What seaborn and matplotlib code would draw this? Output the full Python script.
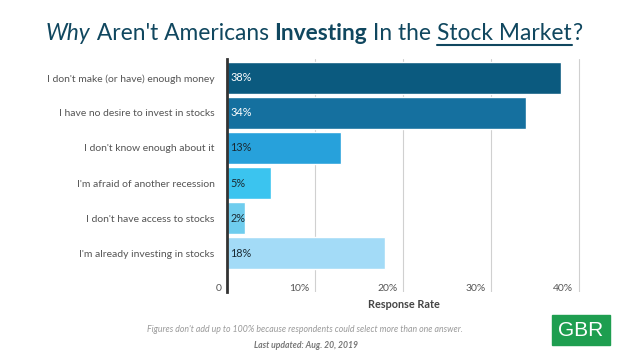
import matplotlib
matplotlib.use("Agg")
import matplotlib.pyplot as plt
import matplotlib.transforms as mtransforms
import seaborn as sns
import pandas as pd

categories = [
    "I don't make (or have) enough money",
    "I have no desire to invest in stocks",
    "I don't know enough about it",
    "I'm afraid of another recession",
    "I don't have access to stocks",
    "I'm already investing in stocks",
]
values = [38, 34, 13, 5, 2, 18]
value_labels = ["38%", "34%", "13%", "5%", "2%", "18%"]
bar_colors = ["#0b5a7f", "#15709f", "#27a1db", "#3bc4ef", "#6fcdee", "#a3dbf7"]
xticks = [0, 10, 20, 30, 40]
xtick_labels = ["0", "10%", "20%", "30%", "40%"]

FONT = "Lato"
sns.set_theme(style="white")
plt.rcParams["font.family"] = [FONT, "DejaVu Sans"]

df = pd.DataFrame({"reason": categories, "rate": values})

fig = plt.figure(figsize=(6.4, 3.6), dpi=100)
ax = fig.add_axes([227 / 640, 1 - 292 / 360, (590 - 227) / 640, (292 - 59) / 360])

sns.barplot(data=df, y="reason", x="rate", hue="reason", palette=bar_colors,
            legend=False, width=0.91, ax=ax, saturation=1, zorder=3)

ax.set_xlim(0, 41.25)
ax.set_ylim(6.11, -0.54)
for x in xticks[1:]:
    ax.axvline(x, color="#d0d0d0", lw=0.8, zorder=1)

for s in ["top", "right", "bottom"]:
    ax.spines[s].set_visible(False)
ax.spines["left"].set_color("#333333")
ax.spines["left"].set_linewidth(2)
ax.spines["left"].set_zorder(5)

ax.set_xticks(xticks)
ax.set_xticklabels(xtick_labels, fontsize=7.5, color="#555555", ha="right")
ax.tick_params(axis="x", length=0, pad=-6)
offset = mtransforms.ScaledTranslation(-4 / 72, 0, fig.dpi_scale_trans)
for lab in ax.get_xticklabels():
    lab.set_transform(lab.get_transform() + offset)

ax.set_yticks(range(len(categories)))
ax.set_yticklabels(categories, fontsize=7.5, color="#555555")
ax.tick_params(axis="y", length=0, pad=9)
ax.set_ylabel("")
ax.set_xlabel("")
fig.text(404 / 640, 1 - 304 / 360, "Response Rate", fontsize=7.8, fontweight="bold",
         color="#444444", ha="center", va="center")

for i, (v, lab) in enumerate(zip(values, value_labels)):
    ax.text(0.4, i, lab, va="center", ha="left", fontsize=7.8,
            color="white" if i < 2 else "#1a2a33", zorder=6)

# Title built from pieces
title_color = "#10475f"
pieces = [("Why", "italic", "normal", False), (" Aren't Americans ", "normal", "normal", False),
          ("Investing", "normal", "bold", False), (" In the ", "normal", "normal", False),
          ("Stock Market", "normal", "normal", True), ("?", "normal", "normal", False)]
fig.canvas.draw()
renderer = fig.canvas.get_renderer()
texts = []
total = 0
for txt, style, weight, ul in pieces:
    t = fig.text(0, 1 - 33 / 360, txt, fontsize=16.4, style=style, fontweight=weight,
                 color=title_color, va="center", ha="left")
    w = t.get_window_extent(renderer).width
    texts.append((t, w, ul))
    total += w
cur = (314 - total / 2) / 640
for t, w, ul in texts:
    t.set_x(cur)
    if ul:
        y = 1 - 45 / 360
        fig.add_artist(plt.Line2D([cur, cur + w / 640], [y, y], color=title_color, lw=1.5))
    cur += w / 640

fig.text(305 / 640, 1 - 330 / 360,
         "Figures don't add up to 100% because respondents could select more than one answer.",
         fontsize=6.3, style="italic", color="#9a9a9a", ha="center", va="center")
fig.text(306 / 640, 1 - 346 / 360, "Last updated: Aug. 20, 2019",
         fontsize=6.2, style="italic", fontweight="bold", color="#777777", ha="center", va="center")

# GBR logo
fig.add_artist(plt.Rectangle((552 / 640, 1 - 345 / 360), 58 / 640, 30 / 360,
                             color="#1e9e50", transform=fig.transFigure))
fig.text(581 / 640, 1 - 330 / 360, "GBR", fontsize=15, color="white", ha="center", va="center",
         family=["Liberation Sans", "DejaVu Sans"])

fig.savefig("out.png", dpi=100, facecolor="white")
